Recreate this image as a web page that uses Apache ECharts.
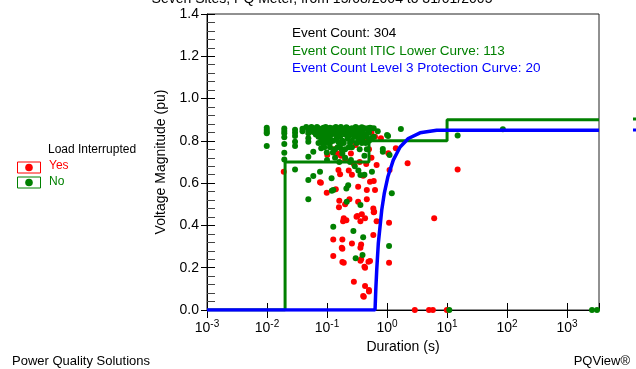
<!DOCTYPE html>
<html>
<head>
<meta charset="utf-8">
<script src="https://cdn.jsdelivr.net/npm/echarts@6/dist/echarts.min.js"></script>
<style>
html, body { margin: 0; padding: 0; background: #fff; }
#chart { width: 636px; height: 369px; }
</style>
</head>
<body>
<div id="chart"></div>
<script>
// duration (s) / magnitude (pu) pairs
const noInterruptEvents = [
  [0.0099, 0.862], [0.0099, 0.851], [0.0099, 0.842], [0.0099, 0.836], [0.0099, 0.776],
  [0.0194, 0.858], [0.0194, 0.847], [0.0194, 0.836], [0.0194, 0.817], [0.0194, 0.785], [0.0194, 0.744], [0.0194, 0.712],
  [0.0293, 0.852], [0.0293, 0.838], [0.0293, 0.823], [0.0293, 0.796], [0.0293, 0.776], [0.0293, 0.665],
  [0.039, 0.857], [0.039, 0.845],
  [0.0488, 0.85], [0.0488, 0.836], [0.0488, 0.812], [0.0488, 0.796], [0.0488, 0.725], [0.0488, 0.615], [0.0488, 0.524],
  [0.059, 0.86], [0.059, 0.842], [0.059, 0.749], [0.059, 0.634],
  [0.065, 0.855], [0.065, 0.83],
  [0.072, 0.86], [0.072, 0.848], [0.072, 0.82], [0.072, 0.79],
  [0.0764, 0.654],
  [0.08, 0.855], [0.08, 0.835], [0.08, 0.8], [0.08, 0.765],
  [0.087, 0.862], [0.087, 0.85], [0.087, 0.838], [0.087, 0.81], [0.087, 0.78],
  [0.093, 0.855], [0.093, 0.825], [0.093, 0.795],
  [0.099, 0.86], [0.099, 0.845], [0.099, 0.83], [0.099, 0.8], [0.099, 0.745],
  [0.106, 0.855], [0.106, 0.82], [0.106, 0.79],
  [0.112, 0.862], [0.112, 0.84], [0.112, 0.81], [0.112, 0.77],
  [0.119, 0.85], [0.119, 0.83], [0.12, 0.564], [0.119, 0.623],
  [0.127, 0.86], [0.127, 0.8], [0.127, 0.568], [0.127, 0.394],
  [0.136, 0.855], [0.136, 0.835], [0.136, 0.76], [0.136, 0.72],
  [0.145, 0.845], [0.145, 0.815],
  [0.155, 0.86], [0.155, 0.83], [0.155, 0.795],
  [0.165, 0.85], [0.165, 0.82], [0.165, 0.78],
  [0.18, 0.858], [0.18, 0.84], [0.18, 0.8], [0.18, 0.74],
  [0.2, 0.855], [0.2, 0.83], [0.2, 0.76], [0.2, 0.72],
  [0.21, 0.575], [0.213, 0.512], [0.225, 0.59],
  [0.22, 0.86], [0.22, 0.845], [0.22, 0.81],
  [0.242, 0.855], [0.242, 0.826], [0.242, 0.79], [0.242, 0.7],
  [0.26, 0.86], [0.26, 0.84], [0.26, 0.8], [0.26, 0.77],
  [0.275, 0.374],
  [0.29, 0.855], [0.29, 0.82], [0.29, 0.68],
  [0.3, 0.245],
  [0.31, 0.845], [0.31, 0.79],
  [0.333, 0.86], [0.333, 0.835], [0.333, 0.8], [0.333, 0.66],
  [0.36, 0.855], [0.36, 0.82], [0.36, 0.639], [0.36, 0.497],
  [0.39, 0.84], [0.39, 0.81], [0.39, 0.26],
  [0.4, 0.344],
  [0.42, 0.86], [0.42, 0.83], [0.42, 0.73], [0.42, 0.64],
  [0.46, 0.855], [0.46, 0.82], [0.46, 0.76],
  [0.5, 0.84], [0.5, 0.8],
  [0.56, 0.654], [0.56, 0.815],
  [0.6, 0.86], [0.6, 0.82],
  [0.7, 0.845],
  [0.85, 0.749], [0.85, 0.762],
  [1.0, 0.828], [1.04, 0.823], [1.1, 0.733], [1.2, 0.552], [1.08, 0.303],
  [1.7, 0.856], [15, 0.825], [85, 0.855],
  [0.045, 0.865], [0.055, 0.865], [0.068, 0.866], [0.095, 0.866], [0.14, 0.866], [0.17, 0.866],
  [0.21, 0.864], [0.3, 0.866], [0.38, 0.864], [0.52, 0.862], [0.48, 0.86], [0.54, 0.86],
  [0.075, 0.83], [0.085, 0.825], [0.09, 0.77], [0.115, 0.795], [0.125, 0.745], [0.15, 0.77],
  [0.175, 0.76], [0.19, 0.79], [0.23, 0.77], [0.27, 0.83], [0.32, 0.82], [0.35, 0.76],
  [0.38, 0.79], [0.44, 0.79], [0.1, 0.71], [0.16, 0.7], [0.25, 0.71],
  [10.9, 0], [2600, 0], [3150, 0]
]
const interruptEvents = [
  [0.019, 0.654], [0.0764, 0.604], [0.079, 0.602], [0.101, 0.733], [0.0989, 0.555], [0.14, 0.571],
  [0.155, 0.662], [0.165, 0.642], [0.16, 0.517], [0.158, 0.486], [0.2, 0.5], [0.236, 0.524],
  [0.19, 0.434], [0.185, 0.42], [0.21, 0.425], [0.31, 0.441], [0.32, 0.445], [0.38, 0.453], [0.43, 0.434], [0.36, 0.42],
  [0.33, 0.512], [0.46, 0.524], [0.6, 0.462], [0.67, 0.42],
  [0.127, 0.334], [0.18, 0.334], [0.176, 0.295], [0.18, 0.29], [0.26, 0.315], [0.37, 0.31], [0.36, 0.295],
  [0.127, 0.255], [0.19, 0.224], [0.18, 0.227], [0.37, 0.24], [0.36, 0.233], [0.52, 0.232], [0.49, 0.228], [0.42, 0.205], [0.43, 0.2],
  [0.28, 0.134], [0.43, 0.114], [0.5, 0.095], [0.41, 0.063], [0.4, 0.066], [0.5, 0.087],
  [0.59, 0.355], [0.61, 0.465], [0.59, 0.48], [0.63, 0.568], [0.6, 0.61], [0.52, 0.607], [0.46, 0.568], [0.4, 0.635], [0.33, 0.583],
  [0.67, 0.686], [0.79, 0.812], [0.63, 0.82], [1.4, 0.765], [1.05, 0.741], [1.1, 0.662], [1.08, 0.413], [1.08, 0.224],
  [2.2, 0.694], [6.1, 0.434], [15, 0.665],
  [0.11, 0.79], [0.13, 0.76], [0.15, 0.74], [0.17, 0.73], [0.2, 0.71], [0.25, 0.74], [0.3, 0.78], [0.45, 0.8], [0.5, 0.76],
  [0.35, 0.7], [0.28, 0.69], [0.23, 0.66], [0.26, 0.64], [0.45, 0.69], [0.55, 0.72], [0.4, 0.86], [0.55, 0.84],
  [2.9, 0], [5.0, 0], [5.8, 0], [9.9, 0]
]
const iticLowerCurve = [
  [0.001, 0], [0.02, 0], [0.02, 0.7], [0.5, 0.7], [0.5, 0.8], [10, 0.8], [10, 0.9], [3400, 0.9]
]
const level3Curve = [
  [0.001, 0], [0.631, 0], [0.65, 0.1], [0.673, 0.19], [0.716, 0.317], [0.816, 0.473], [0.901, 0.553],
  [1.03, 0.629], [1.27, 0.709], [1.65, 0.771], [2.26, 0.811], [3.55, 0.838], [6.73, 0.85], [3400, 0.85]
]
const eventCount = 304
const iticCount = 113
const level3Count = 20

const FONT = '"Liberation Sans", Arial, sans-serif'
const GREEN = "#008000"
const RED = "#ff0000"
const BLUE = "#0000ff"

const chart = echarts.init(document.getElementById("chart"))

const xBase = {
  type: "log",
  logBase: 10,
  min: 0.001,
  max: 3400,
  gridIndex: 0,
  position: "bottom",
  splitLine: { show: false },
}
const yBase = {
  type: "value",
  min: 0,
  max: 1.4,
  interval: 0.2,
  gridIndex: 0,
  position: "left",
  splitLine: { show: false },
}

const option = {
  animation: false,
  grid: {
    left: 207, top: 14, right: 37, bottom: 59,
    show: true, borderColor: "#222", borderWidth: 1,
    containLabel: false, outerBoundsMode: "none",
  },
  xAxis: [
    {
      ...xBase,
      axisLine: { lineStyle: { color: "#000", width: 1 } },
      axisTick: { inside: false, length: 8, lineStyle: { color: "#000" } },
      axisLabel: {
        margin: 9,
        showMaxLabel: false,
        formatter: (v) => "{b|10}{s|" + Math.round(Math.log10(v)) + "}",
        rich: {
          b: { fontSize: 14, fontFamily: FONT, color: "#000", verticalAlign: "bottom", lineHeight: 16 },
          s: { fontSize: 10, fontFamily: FONT, color: "#000", verticalAlign: "top", lineHeight: 10, padding: [0, 0, 6, 0] },
        },
      },
      name: "Duration (s)",
      nameLocation: "middle",
      nameGap: 28,
      nameTextStyle: { fontSize: 14, fontFamily: FONT, color: "#000", verticalAlign: "top" },
    },
    {
      ...xBase,
      axisLine: { show: false },
      axisTick: { inside: true, length: 7, lineStyle: { color: "#000" } },
      axisLabel: { show: false },
    },
  ],
  yAxis: [
    {
      ...yBase,
      axisLine: { lineStyle: { color: "#000", width: 1 } },
      axisTick: { inside: false, length: 6, lineStyle: { color: "#000" } },
      axisLabel: {
        margin: 8,
        fontSize: 14,
        fontFamily: FONT,
        color: "#000",
        formatter: (v) => v.toFixed(1),
      },
      name: "Voltage Magnitude (pu)",
      nameLocation: "middle",
      nameGap: 34,
      nameTextStyle: { fontSize: 14, fontFamily: FONT, color: "#000" },
    },
    {
      ...yBase,
      axisLine: { show: false },
      axisTick: { inside: true, length: 8, lineStyle: { color: "#000" } },
      minorTick: { show: true, splitNumber: 5, length: 8, lineStyle: { color: "#444" } },
      axisLabel: { show: false },
    },
  ],
  series: [
    {
      name: "Yes",
      type: "scatter",
      xAxisIndex: 0, yAxisIndex: 0,
      symbolSize: 6,
      itemStyle: { color: RED, opacity: 1 },
      data: interruptEvents,
      z: 2,
    },
    {
      name: "No",
      type: "scatter",
      xAxisIndex: 0, yAxisIndex: 0,
      symbolSize: 6,
      itemStyle: { color: GREEN, opacity: 1 },
      data: noInterruptEvents,
      z: 3,
    },
    {
      name: "ITIC Lower Curve",
      type: "line",
      xAxisIndex: 0, yAxisIndex: 0,
      showSymbol: false,
      lineStyle: { color: GREEN, width: 3 },
      data: iticLowerCurve,
      z: 4,
    },
    {
      name: "Level 3 Protection Curve",
      type: "line",
      xAxisIndex: 0, yAxisIndex: 0,
      showSymbol: false,
      lineStyle: { color: BLUE, width: 3.5 },
      data: level3Curve,
      z: 5,
    },
  ],
  graphic: [
    { type: "text", x: 322, y: -8, style: { text: "Seven Sites, PQ Meter, from 15/08/2004 to 31/01/2005", textAlign: "center", font: "14px " + FONT, fill: "#000" } },
    { type: "text", x: 292, y: 26, style: { text: "Event Count: " + eventCount, font: "13.5px " + FONT, fill: "#000" } },
    { type: "text", x: 292, y: 44, style: { text: "Event Count ITIC Lower Curve: " + iticCount, font: "13.5px " + FONT, fill: GREEN } },
    { type: "text", x: 292, y: 61, style: { text: "Event Count Level 3 Protection Curve: " + level3Count, font: "13.5px " + FONT, fill: BLUE } },
    { type: "text", x: 48, y: 144, style: { text: "Load Interrupted", font: "12px " + FONT, fill: "#000" } },
    { type: "rect", shape: { x: 17.5, y: 162, width: 23, height: 11 }, style: { fill: "#fff", stroke: RED, lineWidth: 1 } },
    { type: "circle", shape: { cx: 29, cy: 167.5, r: 3.8 }, style: { fill: RED } },
    { type: "text", x: 49, y: 160, style: { text: "Yes", font: "12px " + FONT, fill: RED } },
    { type: "rect", shape: { x: 17.5, y: 177, width: 23, height: 11 }, style: { fill: "#fff", stroke: GREEN, lineWidth: 1 } },
    { type: "circle", shape: { cx: 29, cy: 182.5, r: 3.8 }, style: { fill: GREEN } },
    { type: "text", x: 49, y: 176, style: { text: "No", font: "12px " + FONT, fill: GREEN } },
    { type: "line", shape: { x1: 633, y1: 119, x2: 640, y2: 119 }, style: { stroke: GREEN, lineWidth: 3 } },
    { type: "line", shape: { x1: 633, y1: 130, x2: 640, y2: 130 }, style: { stroke: BLUE, lineWidth: 3 } },
    { type: "text", x: 12, y: 355, style: { text: "Power Quality Solutions", font: "13px " + FONT, fill: "#000" } },
    { type: "text", x: 630, y: 355, style: { text: "PQView®", textAlign: "right", font: "13px " + FONT, fill: "#000" } },
  ],
}
chart.setOption(option)
</script>
</body>
</html>
